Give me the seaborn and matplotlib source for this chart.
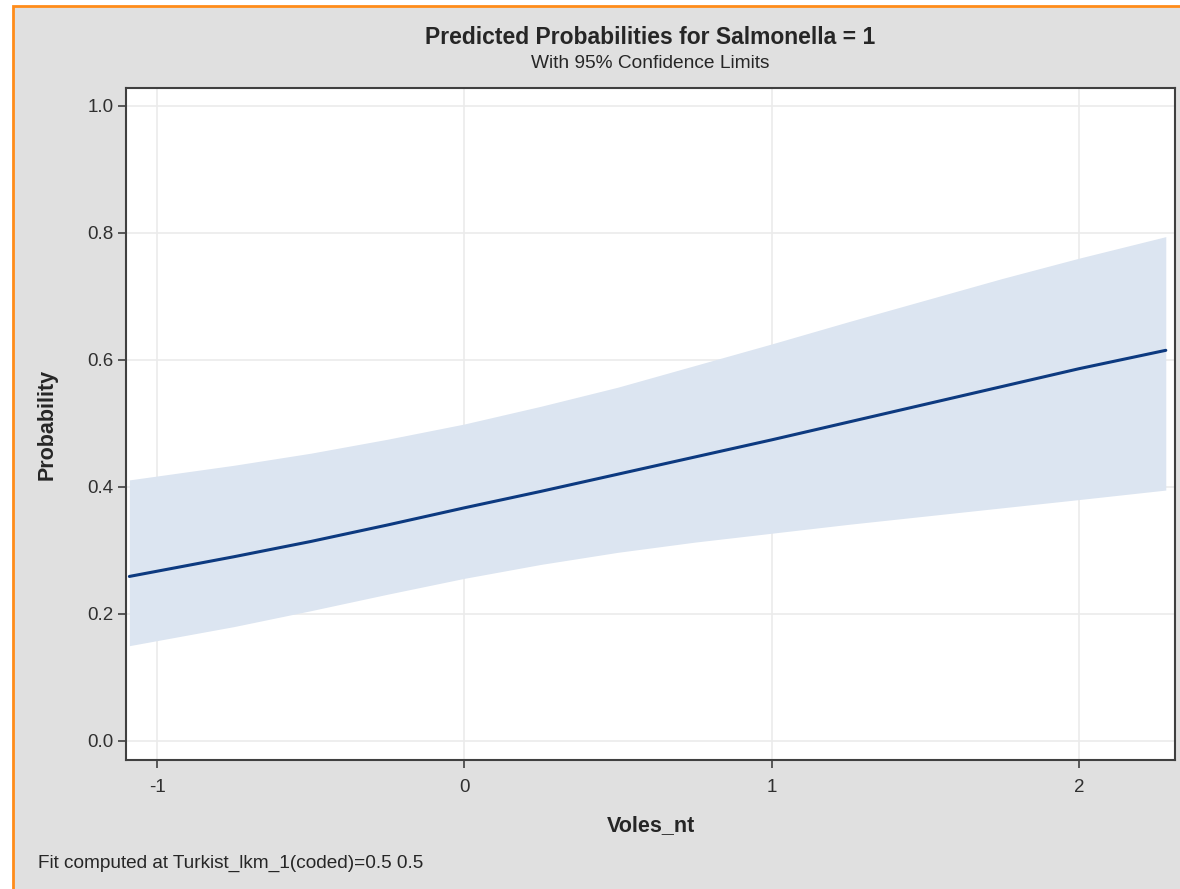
import seaborn as sns
import matplotlib.pyplot as plt
from matplotlib.patches import Rectangle
import pandas as pd

# values
voles = [-1.09, -0.75, -0.5, -0.25, 0.0, 0.25, 0.5, 0.75, 1.0, 1.25, 1.5, 1.75, 2.0, 2.283]
prob = [0.259, 0.290, 0.314, 0.340, 0.367, 0.393, 0.420, 0.447, 0.474, 0.502, 0.530, 0.558, 0.586, 0.615]
upper = [0.411, 0.434, 0.453, 0.475, 0.499, 0.527, 0.557, 0.591, 0.625, 0.660, 0.694, 0.728, 0.760, 0.794]
lower = [0.150, 0.180, 0.205, 0.231, 0.256, 0.278, 0.297, 0.313, 0.327, 0.341, 0.354, 0.367, 0.380, 0.395]
xticks = [-1, 0, 1, 2]
yticks = [0.0, 0.2, 0.4, 0.6, 0.8, 1.0]

df = pd.DataFrame({'Voles_nt': voles, 'Probability': prob, 'upper': upper, 'lower': lower})

sns.set_style('white')
plt.rcParams['font.family'] = ['Liberation Sans', 'DejaVu Sans']

bg = '#e0e0e0'
fig = plt.figure(figsize=(11.8, 8.89), dpi=100)
fig.patch.set_facecolor('white')
# grey panel with the orange frame on the left and top
fig.add_artist(Rectangle((12.5 / 1180, -0.01), 1.05, 1 - 5.5 / 889 + 0.01,
                         transform=fig.transFigure, facecolor=bg,
                         edgecolor='#ff8c1a', linewidth=2, zorder=0))

ax = fig.add_axes([126 / 1180, 1 - 760 / 889, (1175 - 126) / 1180, (760 - 88) / 889])
ax.set_facecolor('white')

ax.fill_between(df['Voles_nt'], df['lower'], df['upper'], color='#dce5f1', linewidth=0, zorder=2)
sns.lineplot(data=df, x='Voles_nt', y='Probability', ax=ax, color='#0d3a80', linewidth=2.2, zorder=3)

ax.set_xlim(-1.101, 2.313)
ax.set_ylim(-0.03, 1.028)
ax.set_xticks(xticks)
ax.set_xticklabels([str(t) for t in xticks])
ax.set_yticks(yticks)
ax.set_yticklabels([f'{t:.1f}' for t in yticks])
ax.grid(True, color='#ebebeb', linewidth=1.2, zorder=1)
ax.set_axisbelow(True)
for s in ax.spines.values():
    s.set_color('#404040')
    s.set_linewidth(1.5)
ax.tick_params(axis='both', direction='out', length=6, width=1.2, color='#404040',
               labelsize=13.5, labelcolor='#303030', left=True, bottom=True)
ax.tick_params(axis='x', pad=8)
ax.tick_params(axis='y', pad=3)

ax.set_xlabel('Voles_nt', fontsize=15.5, fontweight='bold', va='center')
ax.set_ylabel('Probability', fontsize=15.5, fontweight='bold', va='center')
ax.xaxis.set_label_coords(0.5, (760 - 826) / 672)
ax.yaxis.set_label_coords((47 - 126) / 1049, 0.5)

fig.text(650 / 1180, 1 - 38 / 889, 'Predicted Probabilities for Salmonella = 1',
         ha='center', va='center', fontsize=16.5, fontweight='bold')
fig.text(650 / 1180, 1 - 64 / 889, 'With 95% Confidence Limits',
         ha='center', va='center', fontsize=13.8)
fig.text(38 / 1180, 1 - 863 / 889, 'Fit computed at Turkist_lkm_1(coded)=0.5 0.5',
         ha='left', va='center', fontsize=13.7)

fig.savefig('out.png', dpi=100, facecolor=fig.get_facecolor())
